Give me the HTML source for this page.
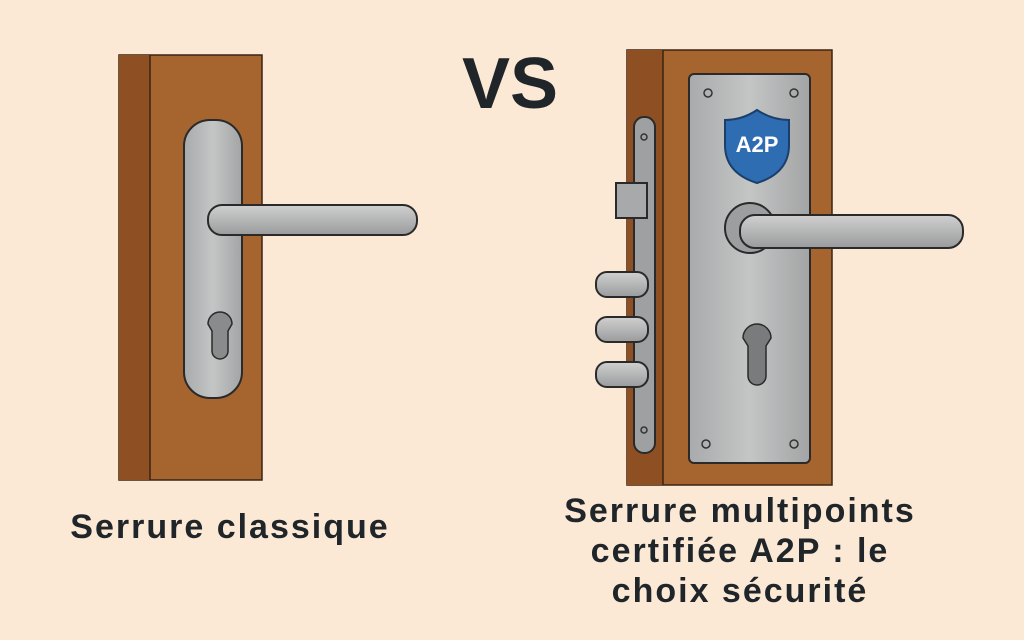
<!DOCTYPE html>
<html><head><meta charset="utf-8"><style>
html,body{margin:0;padding:0;width:1024px;height:640px;overflow:hidden;background:#fbe9d6;font-family:"Liberation Sans",sans-serif}
.t{position:absolute;font-weight:bold;color:#1f2529;text-align:center;white-space:nowrap}
</style></head><body>
<svg width="1024" height="640" style="position:absolute;left:0;top:0">
<defs>
<linearGradient id="m" x1="0" x2="1"><stop offset="0" stop-color="#a9aaab"/><stop offset="0.5" stop-color="#c4c5c5"/><stop offset="1" stop-color="#a3a4a5"/></linearGradient>
<linearGradient id="lv" x1="0" y1="0" x2="0" y2="1"><stop offset="0" stop-color="#d0d0d0"/><stop offset="1" stop-color="#9a9b9c"/></linearGradient>
</defs>
<rect x="119" y="55" width="143" height="425" fill="#a6642f" stroke="#3a2414" stroke-width="1.5"/>
<rect x="119" y="55" width="31" height="425" fill="#8e4f22"/>
<line x1="150" y1="55" x2="150" y2="480" stroke="#3a2414" stroke-width="1.5"/>
<rect x="184" y="120" width="58" height="278" rx="26" fill="url(#m)" stroke="#2a2a2a" stroke-width="2"/>
<rect x="208" y="205" width="209" height="30" rx="14" fill="url(#lv)" stroke="#2a2a2a" stroke-width="2"/>
<path d="M208 324 a12 12 0 1 1 24 0 l-4 7 v20 a6 6 0 0 1 -16 0 v-20 z" fill="#8a8b8c" stroke="#2a2a2a" stroke-width="1.5"/>
<rect x="627" y="50" width="205" height="435" fill="#a6642f" stroke="#3a2414" stroke-width="1.5"/>
<rect x="627" y="50" width="36" height="435" fill="#8e4f22"/>
<line x1="663" y1="50" x2="663" y2="485" stroke="#3a2414" stroke-width="1.5"/>
<rect x="634" y="117" width="21" height="336" rx="10" fill="#9ea0a2" stroke="#2a2a2a" stroke-width="2"/>
<circle cx="644" cy="137" r="3" fill="none" stroke="#333" stroke-width="1.5"/>
<circle cx="644" cy="430" r="3" fill="none" stroke="#333" stroke-width="1.5"/>
<rect x="616" y="183" width="31" height="35" fill="#a8a9aa" stroke="#2a2a2a" stroke-width="2"/>
<rect x="596" y="272" width="52" height="25" rx="11" fill="url(#lv)" stroke="#2a2a2a" stroke-width="2"/>
<rect x="596" y="317" width="52" height="25" rx="11" fill="url(#lv)" stroke="#2a2a2a" stroke-width="2"/>
<rect x="596" y="362" width="52" height="25" rx="11" fill="url(#lv)" stroke="#2a2a2a" stroke-width="2"/>
<rect x="689" y="74" width="121" height="389" rx="5" fill="url(#m)" stroke="#2a2a2a" stroke-width="2"/>
<g fill="none" stroke="#333" stroke-width="1.5"><circle cx="708" cy="93" r="4"/><circle cx="794" cy="93" r="4"/><circle cx="706" cy="444" r="4"/><circle cx="794" cy="444" r="4"/></g>
<path d="M757 110 q-15 10 -32 10 v25 q0 28 32 38 q32 -10 32 -38 v-25 q-17 0 -32 -10z" fill="#2f6db3" stroke="#1b3f6b" stroke-width="2"/>
<text x="757" y="152" font-family="Liberation Sans" font-weight="bold" font-size="22" fill="#fff" text-anchor="middle">A2P</text>
<circle cx="750" cy="228" r="25" fill="#9d9e9f" stroke="#2a2a2a" stroke-width="2"/>
<rect x="740" y="215" width="223" height="33" rx="15" fill="url(#lv)" stroke="#2a2a2a" stroke-width="2"/>
<path d="M743 338 a14 14 0 1 1 28 0 l-5 8 v30 a6 6 0 0 1 -18 0 v-30 z" fill="#7a7b7c" stroke="#2a2a2a" stroke-width="1.5"/>
</svg>
<div class="t" style="left:440px;top:40px;width:140px;font-size:72px;line-height:88px">VS</div>
<div class="t" style="left:20px;top:507px;width:420px;font-size:34px;line-height:40px;letter-spacing:2px">Serrure classique</div>
<div class="t" style="left:500px;top:491px;width:480px;font-size:34px;line-height:40px;letter-spacing:2px">Serrure multipoints<br>certifiée A2P : le<br>choix sécurité</div>
</body></html>
